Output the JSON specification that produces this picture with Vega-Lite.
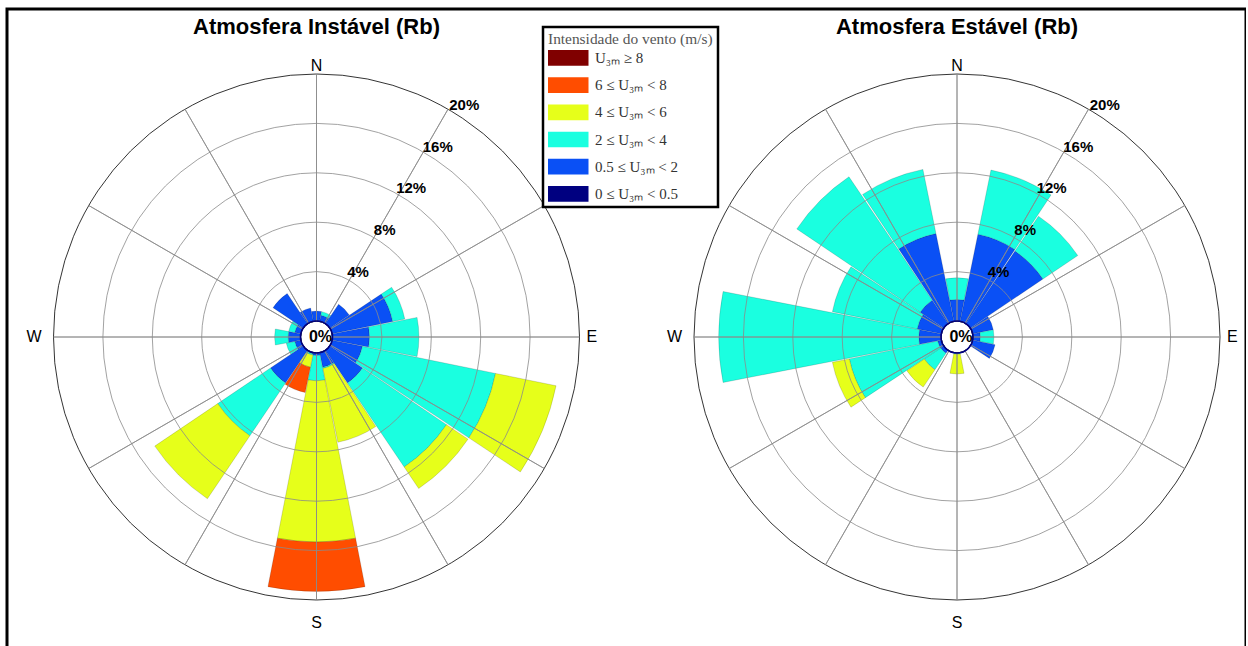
{
  "$schema": "https://vega.github.io/schema/vega-lite/v6.json",
  "width": 1239,
  "height": 656,
  "autosize": {"type": "none"},
  "padding": {"left": 7, "top": 9, "right": 0, "bottom": 0},
  "background": "white",
  "view": {"stroke": "black", "strokeWidth": 3},
  "config": {"font": "Liberation Sans", "legend": {"strokeWidth": 2.5}},
  "datasets": {
    "bars": [
      {"p": "Instável", "d": 0, "k": 1, "c": "0.5 ≤ U₃ₘ < 2", "v": 0.8},
      {"p": "Instável", "d": 22.5, "k": 1, "c": "0.5 ≤ U₃ₘ < 2", "v": 0.5},
      {"p": "Instável", "d": 22.5, "k": 2, "c": "2 ≤ U₃ₘ < 4", "v": 0.3},
      {"p": "Instável", "d": 45, "k": 1, "c": "0.5 ≤ U₃ₘ < 2", "v": 1.9},
      {"p": "Instável", "d": 67.5, "k": 1, "c": "0.5 ≤ U₃ₘ < 2", "v": 5.0},
      {"p": "Instável", "d": 67.5, "k": 2, "c": "2 ≤ U₃ₘ < 4", "v": 1.0},
      {"p": "Instável", "d": 90, "k": 1, "c": "0.5 ≤ U₃ₘ < 2", "v": 3.0},
      {"p": "Instável", "d": 90, "k": 2, "c": "2 ≤ U₃ₘ < 4", "v": 4.0},
      {"p": "Instável", "d": 112.5, "k": 1, "c": "0.5 ≤ U₃ₘ < 2", "v": 2.5},
      {"p": "Instável", "d": 112.5, "k": 2, "c": "2 ≤ U₃ₘ < 4", "v": 11.0},
      {"p": "Instável", "d": 112.5, "k": 3, "c": "4 ≤ U₃ₘ < 6", "v": 5.0},
      {"p": "Instável", "d": 135, "k": 1, "c": "0.5 ≤ U₃ₘ < 2", "v": 3.2},
      {"p": "Instável", "d": 135, "k": 2, "c": "2 ≤ U₃ₘ < 4", "v": 8.2},
      {"p": "Instável", "d": 135, "k": 3, "c": "4 ≤ U₃ₘ < 6", "v": 2.1},
      {"p": "Instável", "d": 157.5, "k": 1, "c": "0.5 ≤ U₃ₘ < 2", "v": 1.2},
      {"p": "Instável", "d": 157.5, "k": 2, "c": "2 ≤ U₃ₘ < 4", "v": 0.1},
      {"p": "Instável", "d": 157.5, "k": 3, "c": "4 ≤ U₃ₘ < 6", "v": 6.1},
      {"p": "Instável", "d": 180, "k": 1, "c": "0.5 ≤ U₃ₘ < 2", "v": 0.2},
      {"p": "Instável", "d": 180, "k": 2, "c": "2 ≤ U₃ₘ < 4", "v": 2.05},
      {"p": "Instável", "d": 180, "k": 3, "c": "4 ≤ U₃ₘ < 6", "v": 13.05},
      {"p": "Instável", "d": 180, "k": 4, "c": "6 ≤ U₃ₘ < 8", "v": 4.0},
      {"p": "Instável", "d": 202.5, "k": 1, "c": "0.5 ≤ U₃ₘ < 2", "v": 0.1},
      {"p": "Instável", "d": 202.5, "k": 2, "c": "2 ≤ U₃ₘ < 4", "v": 0.1},
      {"p": "Instável", "d": 202.5, "k": 3, "c": "4 ≤ U₃ₘ < 6", "v": 1.0},
      {"p": "Instável", "d": 202.5, "k": 4, "c": "6 ≤ U₃ₘ < 8", "v": 2.1},
      {"p": "Instável", "d": 225, "k": 1, "c": "0.5 ≤ U₃ₘ < 2", "v": 3.2},
      {"p": "Instável", "d": 225, "k": 2, "c": "2 ≤ U₃ₘ < 4", "v": 5.15},
      {"p": "Instável", "d": 225, "k": 3, "c": "4 ≤ U₃ₘ < 6", "v": 6.15},
      {"p": "Instável", "d": 247.5, "k": 1, "c": "0.5 ≤ U₃ₘ < 2", "v": 0.5},
      {"p": "Instável", "d": 247.5, "k": 2, "c": "2 ≤ U₃ₘ < 4", "v": 0.7},
      {"p": "Instável", "d": 270, "k": 1, "c": "0.5 ≤ U₃ₘ < 2", "v": 1.0},
      {"p": "Instável", "d": 270, "k": 2, "c": "2 ≤ U₃ₘ < 4", "v": 1.1},
      {"p": "Instável", "d": 292.5, "k": 1, "c": "0.5 ≤ U₃ₘ < 2", "v": 0.5},
      {"p": "Instável", "d": 292.5, "k": 2, "c": "2 ≤ U₃ₘ < 4", "v": 0.5},
      {"p": "Instável", "d": 315, "k": 1, "c": "0.5 ≤ U₃ₘ < 2", "v": 2.95},
      {"p": "Instável", "d": 337.5, "k": 1, "c": "0.5 ≤ U₃ₘ < 2", "v": 1.1},
      {"p": "Estável", "d": 0, "k": 1, "c": "0.5 ≤ U₃ₘ < 2", "v": 1.75},
      {"p": "Estável", "d": 0, "k": 2, "c": "2 ≤ U₃ₘ < 4", "v": 1.75},
      {"p": "Estável", "d": 22.5, "k": 1, "c": "0.5 ≤ U₃ₘ < 2", "v": 7.2},
      {"p": "Estável", "d": 22.5, "k": 2, "c": "2 ≤ U₃ₘ < 4", "v": 5.3},
      {"p": "Estável", "d": 45, "k": 1, "c": "0.5 ≤ U₃ₘ < 2", "v": 7.1},
      {"p": "Estável", "d": 45, "k": 2, "c": "2 ≤ U₃ₘ < 4", "v": 3.4},
      {"p": "Estável", "d": 67.5, "k": 1, "c": "0.5 ≤ U₃ₘ < 2", "v": 1.7},
      {"p": "Estável", "d": 90, "k": 1, "c": "0.5 ≤ U₃ₘ < 2", "v": 0.6},
      {"p": "Estável", "d": 90, "k": 2, "c": "2 ≤ U₃ₘ < 4", "v": 1.1},
      {"p": "Estável", "d": 112.5, "k": 1, "c": "0.5 ≤ U₃ₘ < 2", "v": 1.85},
      {"p": "Estável", "d": 180, "k": 2, "c": "2 ≤ U₃ₘ < 4", "v": 0.1},
      {"p": "Estável", "d": 180, "k": 3, "c": "4 ≤ U₃ₘ < 6", "v": 1.6},
      {"p": "Estável", "d": 225, "k": 1, "c": "0.5 ≤ U₃ₘ < 2", "v": 0.3},
      {"p": "Estável", "d": 225, "k": 2, "c": "2 ≤ U₃ₘ < 4", "v": 1.6},
      {"p": "Estável", "d": 225, "k": 3, "c": "4 ≤ U₃ₘ < 6", "v": 1.7},
      {"p": "Estável", "d": 247.5, "k": 1, "c": "0.5 ≤ U₃ₘ < 2", "v": 0.3},
      {"p": "Estável", "d": 247.5, "k": 2, "c": "2 ≤ U₃ₘ < 4", "v": 7.3},
      {"p": "Estável", "d": 247.5, "k": 3, "c": "4 ≤ U₃ₘ < 6", "v": 1.4},
      {"p": "Estável", "d": 270, "k": 1, "c": "0.5 ≤ U₃ₘ < 2", "v": 1.8},
      {"p": "Estável", "d": 270, "k": 2, "c": "2 ≤ U₃ₘ < 4", "v": 16.2},
      {"p": "Estável", "d": 292.5, "k": 1, "c": "0.5 ≤ U₃ₘ < 2", "v": 2.0},
      {"p": "Estável", "d": 292.5, "k": 2, "c": "2 ≤ U₃ₘ < 4", "v": 7.0},
      {"p": "Estável", "d": 315, "k": 1, "c": "0.5 ≤ U₃ₘ < 2", "v": 2.3},
      {"p": "Estável", "d": 315, "k": 2, "c": "2 ≤ U₃ₘ < 4", "v": 12.05},
      {"p": "Estável", "d": 337.5, "k": 1, "c": "0.5 ≤ U₃ₘ < 2", "v": 7.25},
      {"p": "Estável", "d": 337.5, "k": 2, "c": "2 ≤ U₃ₘ < 4", "v": 5.3}
    ],
    "grid": [
      {"p": "Instável", "a": [0, 30, 60, 90, 120, 150, 180, 210, 240, 270, 300, 330], "g": [4, 8, 12, 16, 20], "gl": ["4%", "8%", "12%", "16%", "20%"]},
      {"p": "Estável", "a": [0, 30, 60, 90, 120, 150, 180, 210, 240, 270, 300, 330], "g": [4, 8, 12, 16, 20], "gl": ["4%", "8%", "12%", "16%", "20%"]}
    ],
    "lbl": [
      {"p": "Instável", "t": "N", "a": 0},
      {"p": "Instável", "t": "E", "a": 90},
      {"p": "Instável", "t": "S", "a": 180},
      {"p": "Instável", "t": "W", "a": 270},
      {"p": "Estável", "t": "N", "a": 0},
      {"p": "Estável", "t": "E", "a": 90},
      {"p": "Estável", "t": "S", "a": 180},
      {"p": "Estável", "t": "W", "a": 270}
    ],
    "titles": [
      {"p": "Instável", "title": "Atmosfera Instável (Rb)"},
      {"p": "Estável", "title": "Atmosfera Estável (Rb)"}
    ]
  },
  "encoding": {
    "x": {"field": "p", "type": "nominal", "scale": {"type": "point", "domain": ["Instável", "Estável"], "range": [309.5, 950], "padding": 0}, "axis": null}
  },
  "layer": [
    {
      "data": {"name": "bars"},
      "transform": [{"stack": "v", "groupby": ["p", "d"], "sort": [{"field": "k", "order": "ascending"}], "as": ["r0", "r1"]}],
      "mark": {"type": "arc", "thetaOffset": -0.192, "theta2Offset": 0.192, "stroke": "black", "strokeOpacity": 0.25, "strokeWidth": 0.6},
      "encoding": {
        "theta": {"field": "d", "type": "quantitative", "stack": null, "scale": {"type": "linear", "domain": [0, 360], "range": [0, 6.283185307179586]}},
        "theta2": {"field": "d"},
        "radius": {"field": "r1", "type": "quantitative", "stack": null, "scale": {"type": "linear", "domain": [0, 20], "range": [16, 263], "zero": false}},
        "radius2": {"field": "r0"},
        "color": {
          "field": "c", "type": "nominal",
          "scale": {"domain": ["U₃ₘ ≥ 8", "6 ≤ U₃ₘ < 8", "4 ≤ U₃ₘ < 6", "2 ≤ U₃ₘ < 4", "0.5 ≤ U₃ₘ < 2", "0 ≤ U₃ₘ < 0.5"], "range": ["#800000", "#FF4D00", "#E6FF1A", "#1AFFE0", "#0A50F5", "#000080"]},
          "legend": {
            "title": "Intensidade do vento (m/s)",
            "orient": "none", "legendX": 536, "legendY": 18,
            "symbolType": "M-1,-0.58H2V0.58H-1Z", "symbolSize": 729,
            "symbolStrokeWidth": 0, "symbolOpacity": 1,
            "labelFont": "Liberation Serif", "labelFontSize": 15, "labelColor": "#333", "labelOffset": 20,
            "titleFont": "Liberation Serif", "titleFontSize": 15.4, "titleFontWeight": "normal", "titleColor": "#555", "titlePadding": -3,
            "rowPadding": 5.2, "padding": 5, "strokeColor": "black", "fillColor": "white"
          }
        }
      }
    },
    {
      "data": {"name": "grid"},
      "transform": [{"flatten": ["g", "gl"]}],
      "mark": {"type": "arc", "filled": false, "strokeWidth": 0.8},
      "encoding": {
        "theta": {"datum": 0},
        "theta2": {"datum": 360},
        "radius": {"field": "g", "type": "quantitative", "stack": null},
        "stroke": {"condition": {"test": "datum.g == 20", "value": "black"}, "value": "#8a8a8a"}
      }
    },
    {
      "data": {"name": "grid"},
      "transform": [{"flatten": ["a"]}],
      "mark": {"type": "arc", "filled": false, "stroke": "#8a8a8a", "strokeWidth": 0.8},
      "encoding": {
        "theta": {"field": "a", "type": "quantitative", "stack": null},
        "theta2": {"field": "a"},
        "radius": {"datum": 20},
        "radius2": {"datum": 0}
      }
    },
    {
      "data": {"name": "titles"},
      "mark": {"type": "arc", "fill": "white", "stroke": "#000080", "strokeWidth": 1.6},
      "encoding": {
        "theta": {"datum": 0},
        "theta2": {"datum": 360},
        "radius": {"datum": 0}
      }
    },
    {
      "data": {"name": "titles"},
      "mark": {"type": "text", "fontSize": 16, "fontWeight": "bold", "dx": 4, "baseline": "middle"},
      "encoding": {"text": {"value": "0%"}}
    },
    {
      "data": {"name": "grid"},
      "transform": [{"flatten": ["g", "gl"]}],
      "mark": {"type": "text", "fontSize": 15, "fontWeight": "bold", "radiusOffset": 12, "baseline": "middle"},
      "encoding": {
        "theta": {"datum": 32.5},
        "radius": {"field": "g", "type": "quantitative"},
        "text": {"field": "gl"}
      }
    },
    {
      "data": {"name": "lbl"},
      "transform": [{"filter": "datum.t == 'N'"}],
      "mark": {"type": "text", "fontSize": 16, "baseline": "alphabetic", "align": "center", "radiusOffset": 3},
      "encoding": {"theta": {"field": "a", "type": "quantitative"}, "radius": {"datum": 20}, "text": {"field": "t"}}
    },
    {
      "data": {"name": "lbl"},
      "transform": [{"filter": "datum.t == 'S'"}],
      "mark": {"type": "text", "fontSize": 16, "baseline": "top", "align": "center", "radiusOffset": 15},
      "encoding": {"theta": {"field": "a", "type": "quantitative"}, "radius": {"datum": 20}, "text": {"field": "t"}}
    },
    {
      "data": {"name": "lbl"},
      "transform": [{"filter": "datum.t == 'E'"}],
      "mark": {"type": "text", "fontSize": 16, "baseline": "middle", "align": "left", "radiusOffset": 7},
      "encoding": {"theta": {"field": "a", "type": "quantitative"}, "radius": {"datum": 20}, "text": {"field": "t"}}
    },
    {
      "data": {"name": "lbl"},
      "transform": [{"filter": "datum.t == 'W'"}],
      "mark": {"type": "text", "fontSize": 16, "baseline": "middle", "align": "right", "radiusOffset": 12},
      "encoding": {"theta": {"field": "a", "type": "quantitative"}, "radius": {"datum": 20}, "text": {"field": "t"}}
    },
    {
      "data": {"name": "titles"},
      "mark": {"type": "text", "fontSize": 22, "fontWeight": "bold", "baseline": "middle", "align": "center", "radiusOffset": 47},
      "encoding": {"theta": {"datum": 0}, "radius": {"datum": 20}, "text": {"field": "title"}}
    }
  ]
}
